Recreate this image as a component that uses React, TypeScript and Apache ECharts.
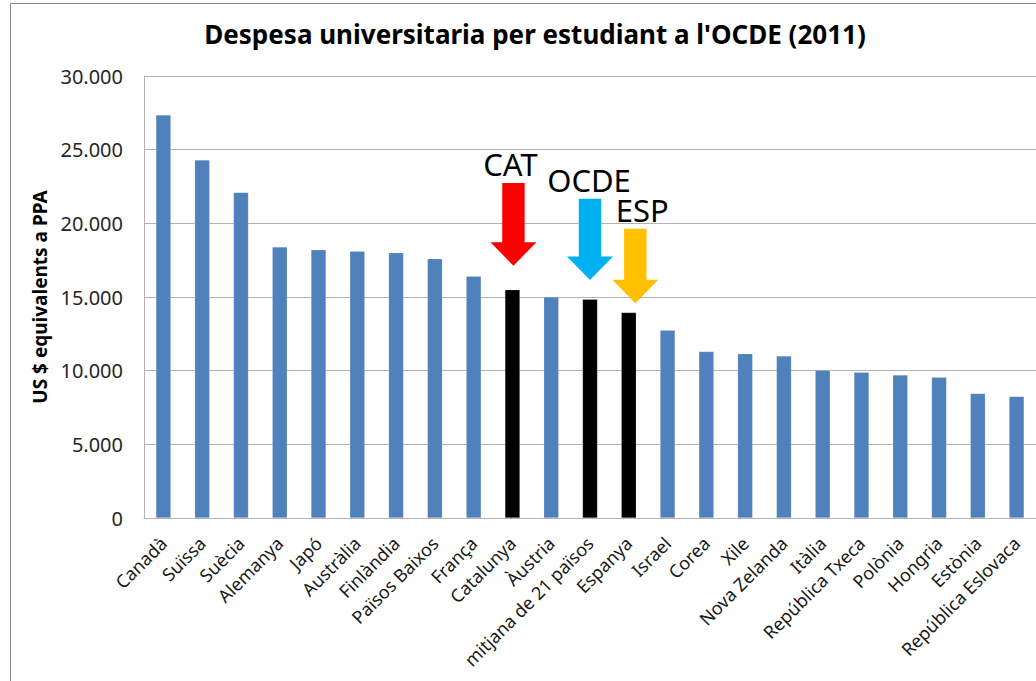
import React, { useEffect, useRef } from "react";
import * as echarts from "echarts";

const TITLE = "Despesa universitaria per estudiant a l'OCDE (2011)";
const Y_NAME = "US $ equivalents a PPA";

const categories = [
  "Canadà", "Suïssa", "Suècia", "Alemanya", "Japó", "Austràlia", "Finlàndia",
  "Països Baixos", "França", "Catalunya", "Àustria", "mitjana de 21 països",
  "Espanya", "Israel", "Corea", "Xile", "Nova Zelanda", "Itàlia",
  "República Txeca", "Polònia", "Hongria", "Estònia", "República Eslovaca",
];

const spending = [
  27350, 24300, 22100, 18400, 18200, 18100, 18000, 17600, 16400, 15500,
  15000, 14850, 13950, 12750, 11300, 11150, 11000, 10030, 9900, 9700,
  9550, 8450, 8250,
];

const highlighted = ["Catalunya", "mitjana de 21 països", "Espanya"];

const yTicks = { min: 0, max: 30000, interval: 5000 };

// arrow annotations (target category, tip value, tail value in axis units)
const arrowLabels = ["CAT", "OCDE", "ESP"];
const arrowTargets = ["Catalunya", "mitjana de 21 països", "Espanya"];
const arrowTips = [17125, 16155, 14575];
const arrowTails = [22740, 21670, 19635];
const arrowColors = ["#ff0000", "#00b0f0", "#ffc000"];
const arrowShift = [1, 0, 6.5];
const labelShift = [-2, -1, 13.5];

const BLUE = "#4f81bd";
const FONT = "'Noto Sans', 'DejaVu Sans', sans-serif";

function fmt(v: number): string {
  return String(v).replace(/\B(?=(\d{3})+(?!\d))/g, ".");
}

export default function App() {
  const ref = useRef<HTMLDivElement>(null);

  useEffect(() => {
    if (!ref.current) return;
    const chart = echarts.init(ref.current, undefined, { renderer: "svg" });

    const barData = spending.map((v, i) => ({
      value: v,
      itemStyle: {
        color: highlighted.includes(categories[i]) ? "#000000" : BLUE,
      },
    }));

    const arrowData = arrowLabels.map((_, i) => [
      categories.indexOf(arrowTargets[i]),
      arrowTips[i],
      arrowTails[i],
    ]);

    chart.setOption({
      animation: false,
      backgroundColor: "#ffffff",
      title: {
        text: TITLE,
        left: 530,
        top: 16,
        textAlign: "center",
        textStyle: {
          fontFamily: FONT,
          fontSize: 26,
          fontWeight: "bold",
          color: "#000000",
        },
      },
      graphic: [
        {
          type: "rect",
          shape: { x: 10.5, y: 3.5, width: 1100, height: 800 },
          style: { fill: "none", stroke: "#868686", lineWidth: 1 },
          silent: true,
          z: -10,
        },
      ],
      grid: { left: 144, right: 0, top: 76, bottom: 163, containLabel: false },
      xAxis: {
        type: "category",
        data: categories,
        axisLine: { show: true, lineStyle: { color: "#b3b3b3", width: 1 } },
        axisTick: { show: false },
        axisLabel: {
          interval: 0,
          rotate: 45,
          margin: 22,
          fontFamily: FONT,
          fontSize: 18,
          color: "#1a1a1a",
        },
      },
      yAxis: {
        type: "value",
        min: yTicks.min,
        max: yTicks.max,
        interval: yTicks.interval,
        name: Y_NAME,
        nameLocation: "middle",
        nameGap: 92,
        nameTextStyle: {
          fontFamily: FONT,
          fontSize: 19,
          fontWeight: "bold",
          color: "#000000",
        },
        axisLine: { show: true, lineStyle: { color: "#b3b3b3", width: 1 } },
        axisTick: { show: false },
        splitLine: { show: true, lineStyle: { color: "#b3b3b3", width: 1 } },
        axisLabel: {
          margin: 21,
          fontFamily: FONT,
          fontSize: 20,
          color: "#262626",
          formatter: (v: number) => fmt(v),
        },
      },
      series: [
        {
          type: "bar",
          data: barData,
          barWidth: 15,
          itemStyle: { borderColor: "rgba(255,255,255,0.35)", borderWidth: 0.5 },
        },
        {
          type: "custom",
          data: arrowData,
          encode: { x: 0, y: [1, 2] },
          z: 5,
          renderItem: (params: any, api: any) => {
            const i = params.dataIndex;
            const tip = api.coord([api.value(0), api.value(1)]);
            const tail = api.coord([api.value(0), api.value(2)]);
            const cx = tip[0] + arrowShift[i];
            const ty = tip[1];
            const sy = tail[1];
            const shaftHalf = 11.2;
            const headHalf = 23;
            const headLen = 23.5;
            const hy = ty - headLen;
            return {
              type: "group",
              children: [
                {
                  type: "polygon",
                  shape: {
                    points: [
                      [cx - shaftHalf, sy],
                      [cx + shaftHalf, sy],
                      [cx + shaftHalf, hy],
                      [cx + headHalf, hy],
                      [cx, ty],
                      [cx - headHalf, hy],
                      [cx - shaftHalf, hy],
                    ],
                  },
                  style: { fill: arrowColors[i], stroke: "none" },
                },
                {
                  type: "text",
                  x: tip[0] + labelShift[i],
                  y: sy - 18.5,
                  style: {
                    text: arrowLabels[i],
                    fill: "#000000",
                    fontFamily: FONT,
                    fontSize: 31,
                    align: "center",
                    verticalAlign: "middle",
                  },
                },
              ],
            };
          },
        },
      ],
    });

    return () => chart.dispose();
  }, []);

  return (
    <div
      ref={ref}
      style={{ position: "fixed", left: 0, top: 0, width: 1036, height: 681 }}
    />
  );
}
